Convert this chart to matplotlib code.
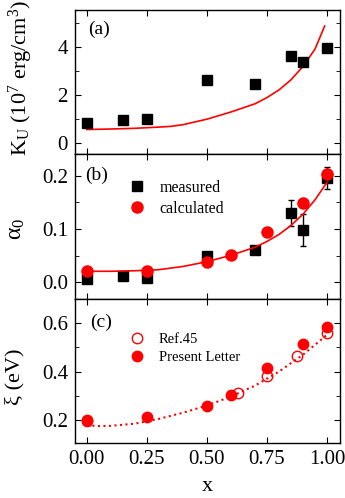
import numpy as np
import matplotlib.pyplot as plt
from matplotlib.ticker import MultipleLocator

plt.rcParams['font.family'] = ['Liberation Serif', 'DejaVu Serif']
plt.rcParams['mathtext.fontset'] = 'custom'
plt.rcParams['mathtext.rm'] = 'Liberation Serif'
plt.rcParams['mathtext.it'] = 'Liberation Serif:italic'

# panel (a): anisotropy constant K_U
ku_x = [0.0, 0.15, 0.25, 0.5, 0.7, 0.85, 0.9, 1.0]
ku_meas = [0.80, 0.93, 0.98, 2.60, 2.43, 3.62, 3.38, 3.93]
ku_err = [0.05, 0.05, 0.05, 0.05, 0.05, 0.12, 0.08, 0.15]
ku_line_x = [0.0, 0.1, 0.2, 0.3, 0.35, 0.4, 0.5, 0.6, 0.7, 0.75, 0.8, 0.85, 0.9, 0.95, 0.99]
ku_line_y = [0.55, 0.57, 0.60, 0.65, 0.68, 0.75, 0.98, 1.28, 1.62, 1.88, 2.20, 2.62, 3.18, 3.90, 4.86]

# panel (b): damping alpha_0
al_x = [0.0, 0.15, 0.25, 0.5, 0.7, 0.85, 0.9, 1.0]
al_meas = [0.007, 0.013, 0.008, 0.049, 0.061, 0.130, 0.099, 0.196]
al_err = [0.002, 0.002, 0.002, 0.003, 0.003, 0.025, 0.030, 0.020]
al_calc_x = [0.0, 0.25, 0.5, 0.6, 0.75, 0.9, 1.0]
al_calc = [0.021, 0.022, 0.039, 0.051, 0.094, 0.149, 0.204]
al_line_x = [0.0, 0.1, 0.2, 0.3, 0.4, 0.5, 0.6, 0.7, 0.75, 0.8, 0.85, 0.9, 0.95, 1.0]
al_line_y = [0.021, 0.021, 0.022, 0.024, 0.030, 0.039, 0.051, 0.066, 0.077, 0.090, 0.107, 0.128, 0.155, 0.188]

# panel (c): xi
xi_ref_x = [0.0, 0.628, 0.75, 0.874, 1.0]
xi_ref = [0.195, 0.310, 0.380, 0.466, 0.558]
xi_pl_x = [0.0, 0.25, 0.5, 0.6, 0.75, 0.9, 1.0]
xi_pl = [0.200, 0.211, 0.258, 0.304, 0.414, 0.513, 0.585]
xi_line_x = [0.0, 0.05, 0.1, 0.2, 0.3, 0.4, 0.5, 0.6, 0.7, 0.8, 0.9, 1.0]
xi_line_y = [0.178, 0.175, 0.176, 0.185, 0.205, 0.230, 0.260, 0.297, 0.342, 0.400, 0.470, 0.552]

fig = plt.figure(figsize=(3.45, 4.98), dpi=100)
W = 0.7685
axa = fig.add_axes([0.217, 0.6908, W, 0.2892])
axb = fig.add_axes([0.217, 0.3996, W, 0.2912])
axc = fig.add_axes([0.217, 0.1104, W, 0.2892])

for ax in (axa, axb, axc):
    ax.set_xlim(-0.05, 1.054)
    ax.xaxis.set_major_locator(MultipleLocator(0.25))
    ax.tick_params(which='both', direction='in', top=True, right=True, labelsize=15, pad=5)
    ax.tick_params(which='major', length=4)
    ax.tick_params(which='minor', length=3)
    for s in ax.spines.values():
        s.set_linewidth(1.0)
axa.tick_params(labelbottom=False)
axb.tick_params(labelbottom=False)

# (a)
axa.errorbar(ku_x, ku_meas, yerr=ku_err, fmt='s', color='black', ms=6.5, capsize=2.5, elinewidth=1)
axa.plot(ku_line_x, ku_line_y, color='red', lw=1.2)
axa.set_ylim(-0.47, 5.53)
axa.yaxis.set_major_locator(MultipleLocator(2))
axa.yaxis.set_minor_locator(MultipleLocator(1))
axa.set_ylabel(r'$\mathrm{K_U}$ (10$^7$ erg/cm$^3$)', fontsize=16)
axa.yaxis.set_label_coords(-0.15, 0.53)
axa.text(0.049, 0.868, '(a)', transform=axa.transAxes, fontsize=14, va='center')

# (b)
axb.errorbar(al_x, al_meas, yerr=al_err, fmt='none', ecolor='black', capsize=2.5, elinewidth=1)
h_meas, = axb.plot(al_x, al_meas, 's', color='black', ms=6.5, label='measured')
h_calc, = axb.plot(al_calc_x, al_calc, 'o', color='red', ms=8, label='calculated')
axb.plot(al_line_x, al_line_y, color='red', lw=1.2)
axb.set_ylim(-0.031, 0.241)
axb.yaxis.set_major_locator(MultipleLocator(0.1))
axb.yaxis.set_minor_locator(MultipleLocator(0.05))
axb.set_ylabel(r'$\mathrm{α}_0$', fontsize=17)
axb.yaxis.set_label_coords(-0.18, 0.48)
axb.text(0.038, 0.852, '(b)', transform=axb.transAxes, fontsize=14, va='center')
axb.legend(handles=[h_meas, h_calc], loc='upper left', bbox_to_anchor=(0.174, 0.865),
           frameon=False, fontsize=11.5, handletextpad=0.8, labelspacing=0.3,
           borderaxespad=0, handlelength=1.2)

# (c)
axc.plot(xi_line_x, xi_line_y, ':', color='red', lw=1.5)
axc.plot(xi_ref_x, xi_ref, 'o', mfc='none', mec='red', mew=1.0, ms=7.5, label='Ref.45')
axc.plot(xi_pl_x, xi_pl, 'o', color='red', ms=7.5, label='Present Letter')
axc.set_ylim(0.105, 0.70)
axc.yaxis.set_major_locator(MultipleLocator(0.2))
axc.yaxis.set_minor_locator(MultipleLocator(0.1))
axc.set_ylabel('ξ (eV)', fontsize=16)
axc.yaxis.set_label_coords(-0.19, 0.46)
axc.set_xlabel('x', fontsize=16, labelpad=6)
axc.text(0.057, 0.837, '(c)', transform=axc.transAxes, fontsize=14, va='center')
axc.legend(loc='upper left', bbox_to_anchor=(0.18, 0.803), frameon=False, fontsize=10.5,
           handletextpad=0.9, labelspacing=0.3, borderaxespad=0, handlelength=1.2)

fig.savefig('out.png', dpi=100)
